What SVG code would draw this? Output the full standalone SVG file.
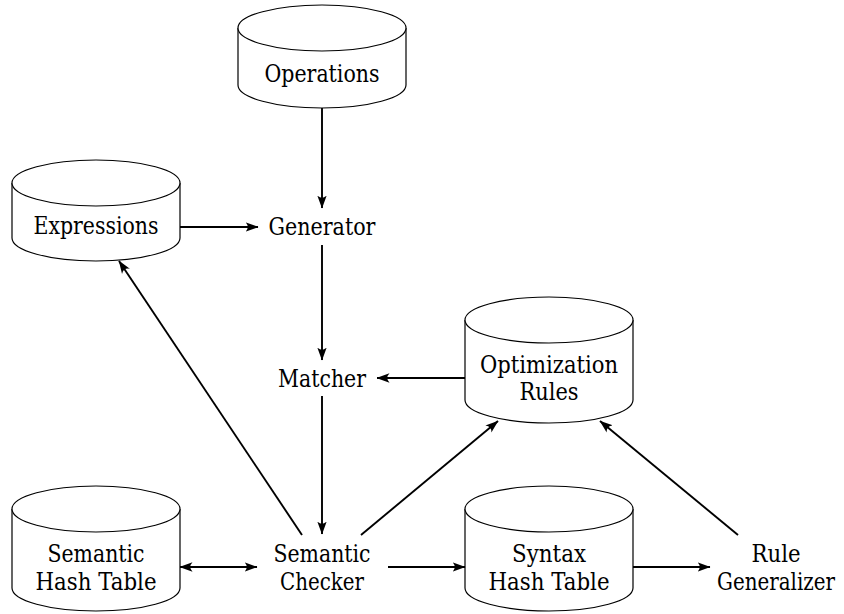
<svg xmlns="http://www.w3.org/2000/svg" width="844" height="614" viewBox="0 0 844 614">
<style>
  .cyl { fill: #ffffff; stroke: #000000; stroke-width: 1.2; }
  .lbl { font-family: "DejaVu Serif", serif; font-size: 24px; fill: #000000; text-anchor: middle; }
  .edge { fill: none; stroke: #000000; stroke-width: 1.9; }
</style>
<defs>
  <marker id="arr" viewBox="0 0 13 10" refX="12.5" refY="5" markerWidth="13" markerHeight="10" markerUnits="userSpaceOnUse" orient="auto-start-reverse">
    <path d="M0,0.3 Q4.5,5 0,9.7 L13,5 Z" fill="#000000"/>
  </marker>
</defs>
<rect width="844" height="614" fill="#ffffff"/>

<g id="operations">
  <path class="cyl" d="M238,28 V85 A84,23 0 0 0 406,85 V28"/>
  <ellipse class="cyl" cx="322" cy="28" rx="84" ry="23"/>
  <text class="lbl" x="322" y="82" textLength="115" lengthAdjust="spacingAndGlyphs">Operations</text>
</g>

<g id="expressions">
  <path class="cyl" d="M12,183 V238 A84,23 0 0 0 180,238 V183"/>
  <ellipse class="cyl" cx="96" cy="183" rx="84" ry="23"/>
  <text class="lbl" x="96" y="234" textLength="125" lengthAdjust="spacingAndGlyphs">Expressions</text>
</g>

<g id="generator">
  <text class="lbl" x="322" y="235" textLength="107" lengthAdjust="spacingAndGlyphs">Generator</text>
</g>

<g id="matcher">
  <text class="lbl" x="322" y="387" textLength="88" lengthAdjust="spacingAndGlyphs">Matcher</text>
</g>

<g id="optimization-rules">
  <path class="cyl" d="M465,320 V400 A84,23 0 0 0 633,400 V320"/>
  <ellipse class="cyl" cx="549" cy="320" rx="84" ry="23"/>
  <text class="lbl" x="549" y="373" textLength="138" lengthAdjust="spacingAndGlyphs">Optimization</text>
  <text class="lbl" x="549" y="400" textLength="59" lengthAdjust="spacingAndGlyphs">Rules</text>
</g>

<g id="semantic-hash-table">
  <path class="cyl" d="M12,509 V588 A84,23 0 0 0 180,588 V509"/>
  <ellipse class="cyl" cx="96" cy="509" rx="84" ry="23"/>
  <text class="lbl" x="96" y="562" textLength="97" lengthAdjust="spacingAndGlyphs">Semantic</text>
  <text class="lbl" x="96" y="590" textLength="121" lengthAdjust="spacingAndGlyphs">Hash Table</text>
</g>

<g id="semantic-checker">
  <text class="lbl" x="322" y="562" textLength="97" lengthAdjust="spacingAndGlyphs">Semantic</text>
  <text class="lbl" x="322" y="590" textLength="84" lengthAdjust="spacingAndGlyphs">Checker</text>
</g>

<g id="syntax-hash-table">
  <path class="cyl" d="M465,509 V588 A84,23 0 0 0 633,588 V509"/>
  <ellipse class="cyl" cx="549" cy="509" rx="84" ry="23"/>
  <text class="lbl" x="549" y="562" textLength="74" lengthAdjust="spacingAndGlyphs">Syntax</text>
  <text class="lbl" x="549" y="590" textLength="121" lengthAdjust="spacingAndGlyphs">Hash Table</text>
</g>

<g id="rule-generalizer">
  <text class="lbl" x="776" y="562" textLength="49" lengthAdjust="spacingAndGlyphs">Rule</text>
  <text class="lbl" x="776" y="590" font-size="22" textLength="118" lengthAdjust="spacingAndGlyphs">Generalizer</text>
</g>

<g id="connectors">
  <path class="edge" d="M322,108 L322,208" marker-end="url(#arr)"/>
  <path class="edge" d="M180,227 L258,227" marker-end="url(#arr)"/>
  <path class="edge" d="M322,245 L322,360" marker-end="url(#arr)"/>
  <path class="edge" d="M465,378 L377,378" marker-end="url(#arr)"/>
  <path class="edge" d="M322,396 L322,534" marker-end="url(#arr)"/>
  <path class="edge" d="M302,535 L119,261" marker-end="url(#arr)"/>
  <path class="edge" d="M361,535 L498,421" marker-end="url(#arr)"/>
  <path class="edge" d="M180,567 L257,567" marker-start="url(#arr)" marker-end="url(#arr)"/>
  <path class="edge" d="M388,567 L465,567" marker-end="url(#arr)"/>
  <path class="edge" d="M633,567 L710,567" marker-end="url(#arr)"/>
  <path class="edge" d="M738,535 L600,421" marker-end="url(#arr)"/>
</g>
</svg>
